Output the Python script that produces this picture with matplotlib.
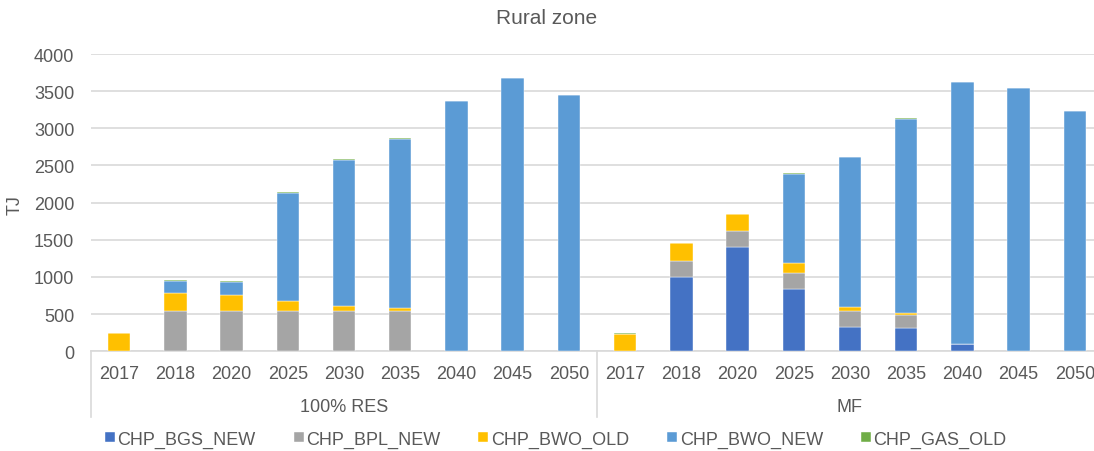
import numpy as np
import matplotlib.pyplot as plt

plt.rcParams['font.family'] = ['Liberation Sans', 'DejaVu Sans']

years = ['2017', '2018', '2020', '2025', '2030', '2035', '2040', '2045', '2050']
scenarios = ['100% RES', 'MF']

# TJ per technology, first 9 = 100% RES, last 9 = MF
bgs_new = [0, 0, 0, 0, 0, 0, 0, 0, 0,
           0, 1005, 1408, 843, 332, 314, 94, 0, 0]
bpl_new = [0, 547, 547, 547, 547, 547, 0, 0, 0,
           0, 215, 216, 215, 215, 179, 0, 0, 0]
bwo_old = [240, 233, 215, 135, 58, 32, 0, 0, 0,
           238, 233, 224, 131, 54, 27, 0, 0, 0]
bwo_new = [0, 162, 175, 1453, 1969, 2282, 3373, 3678, 3444,
           0, 0, 0, 1202, 2009, 2611, 3530, 3543, 3229]
gas_old = [5, 15, 9, 9, 14, 4, 0, 0, 0,
           5, 8, 4, 9, 8, 3, 0, 0, 0]

series = [
    ('CHP_BGS_NEW', bgs_new, '#4472C4'),
    ('CHP_BPL_NEW', bpl_new, '#A5A5A5'),
    ('CHP_BWO_OLD', bwo_old, '#FFC000'),
    ('CHP_BWO_NEW', bwo_new, '#5B9BD5'),
    ('CHP_GAS_OLD', gas_old, '#70AD47'),
]

txt = '#595959'
grid = '#D9D9D9'
fs = 13

fig = plt.figure(figsize=(10.94, 4.52), dpi=100)
ax = fig.add_axes([91 / 1094, 0.2206, 1012 / 1094, 0.6577])

x = np.arange(len(years) * len(scenarios))
bottom = np.zeros(len(x))
for name, vals, col in series:
    vals = np.array(vals, dtype=float)
    ax.bar(x, vals, 0.4, bottom=bottom, color=col, label=name,
           edgecolor='white', linewidth=0.3, zorder=3)
    bottom += vals

ax.set_xlim(-0.5, len(x) - 0.5)
ax.set_ylim(0, 4000)
ax.set_yticks(np.arange(0, 4001, 500))
ax.yaxis.grid(True, color=grid, linewidth=1.2, zorder=0)
ax.tick_params(axis='y', length=0, labelsize=fs, labelcolor=txt, pad=12)
for s in ['left', 'right', 'top']:
    ax.spines[s].set_visible(False)
ax.spines['bottom'].set_color(grid)
ax.spines['bottom'].set_linewidth(1.2)

ax.set_xticks([])
trans = ax.get_xaxis_transform()
for i, xi in enumerate(x):
    ax.text(xi, -0.076, years[i % len(years)], transform=trans,
            ha='center', va='center', fontsize=fs, color=txt)
for g, name in enumerate(scenarios):
    mid = g * len(years) + (len(years) - 1) / 2
    ax.text(mid, -0.187, name, transform=trans, ha='center', va='center',
            fontsize=fs, color=txt)
for sep in [-0.5, len(years) - 0.5, len(x) - 0.5]:
    ax.plot([sep, sep], [0, -0.222], transform=trans, color=grid,
            linewidth=1.2, clip_on=False)

fig.text(15 / 1094, 1 - 205 / 452, 'TJ', rotation=90, ha='center',
         va='center', fontsize=fs, color=txt)
fig.text(0.5, 1 - 18 / 452, 'Rural zone', ha='center', va='center',
         fontsize=15, color=txt)

fig.legend(loc='center', bbox_to_anchor=(0.508, 1 - 440 / 452), ncol=5,
           frameon=False, fontsize=fs, labelcolor=txt, handlelength=0.55,
           handleheight=0.55, handletextpad=0.15, columnspacing=2.1)

fig.savefig('out.png', dpi=100)
